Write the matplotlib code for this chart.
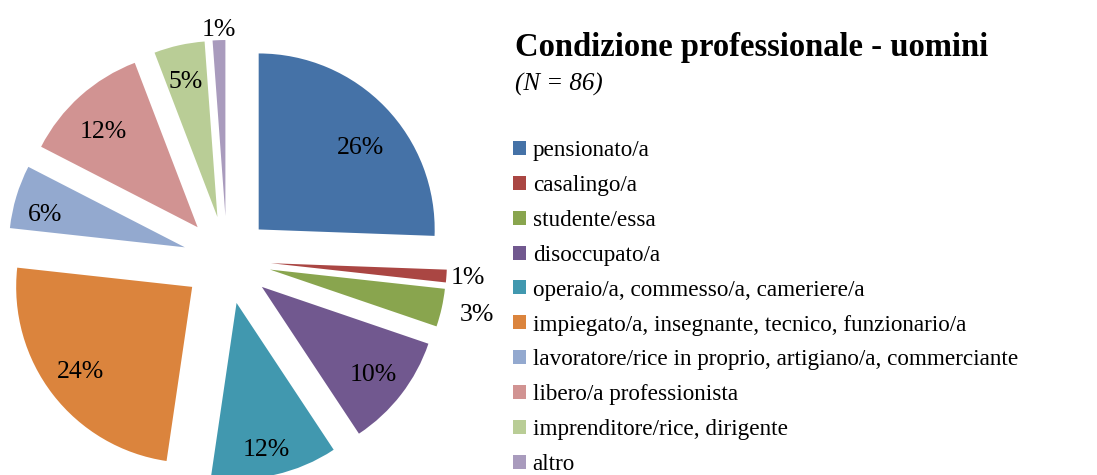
import matplotlib
matplotlib.use('Agg')
import matplotlib.pyplot as plt
import numpy as np

# dati: condizione professionale - uomini (N = 86)
categorie = ['pensionato/a', 'casalingo/a', 'studente/essa', 'disoccupato/a',
             'operaio/a, commesso/a, cameriere/a',
             'impiegato/a, insegnante, tecnico, funzionario/a',
             'lavoratore/rice in proprio, artigiano/a, commerciante',
             'libero/a professionista', 'imprenditore/rice, dirigente', 'altro']
conteggi = [22, 1, 3, 9, 10, 21, 5, 10, 4, 1]
colori = ['#4572A7', '#AA4643', '#89A54E', '#71588F', '#4198AF',
          '#DB843D', '#93A9CF', '#D19392', '#B9CD96', '#A99BBD']
# posizione delle etichette rispetto al vertice di ogni fetta:
# distanza (in raggi) e scarto angolare (gradi, in senso orario)
dist_etichette = [0.75, 1.12, 1.20, 0.80, 0.84, 0.79, 0.82, 0.77, 0.805, 1.07]
scarto_etichette = [4.2, -0.5, -0.8, 0, 0.8, 1.2, -2.9, -2.3, -0.6, 0]

N = sum(conteggi)
serif = 'Liberation Serif'

fig = plt.figure(figsize=(10.97, 4.75), dpi=100)
ax = fig.add_axes([0, 0, 1, 1])

wedges, _ = ax.pie(conteggi, colors=colori, startangle=90, counterclock=False,
                   explode=[0.25] * len(conteggi), radius=1.0,
                   wedgeprops=dict(linewidth=0))

# pie centre at pixel (227, 260), radius 176 px
R = 176.0
cx, cy = 227.0, 260.0
ax.set_aspect('auto')
ax.set_xlim(-cx / R, (1097 - cx) / R)
ax.set_ylim(-(475 - cy) / R, cy / R)
ax.axis('off')

fs = 18.5
for w, c, d, s in zip(wedges, conteggi, dist_etichette, scarto_etichette):
    quota = c / N
    mid = np.deg2rad((w.theta1 + w.theta2) / 2 - s)
    x = w.center[0] + d * np.cos(mid)
    y = w.center[1] + d * np.sin(mid)
    ax.annotate('%d%%' % round(quota * 100), (x, y), xytext=(0, -0.33 * fs),
                textcoords='offset points', ha='center', va='baseline',
                fontsize=fs, family=serif)

fig.text(515 / 1097, 1 - 56 / 475, 'Condizione professionale - uomini',
         fontsize=23.5, fontweight='bold', family=serif, va='baseline')
fig.text(515 / 1097, 1 - 91 / 475, '(N = 86)', fontsize=18, style='italic',
         family=serif, va='baseline')

fig.legend(wedges, categorie, loc='upper left',
           bbox_to_anchor=(513 / 1097, 1 - 140 / 475), frameon=False,
           prop=dict(family=serif, size=16.7), handlelength=0.55,
           handleheight=0.55, handletextpad=0.3, labelspacing=0.60,
           borderpad=0, borderaxespad=0)

fig.savefig('out.png', dpi=100)
